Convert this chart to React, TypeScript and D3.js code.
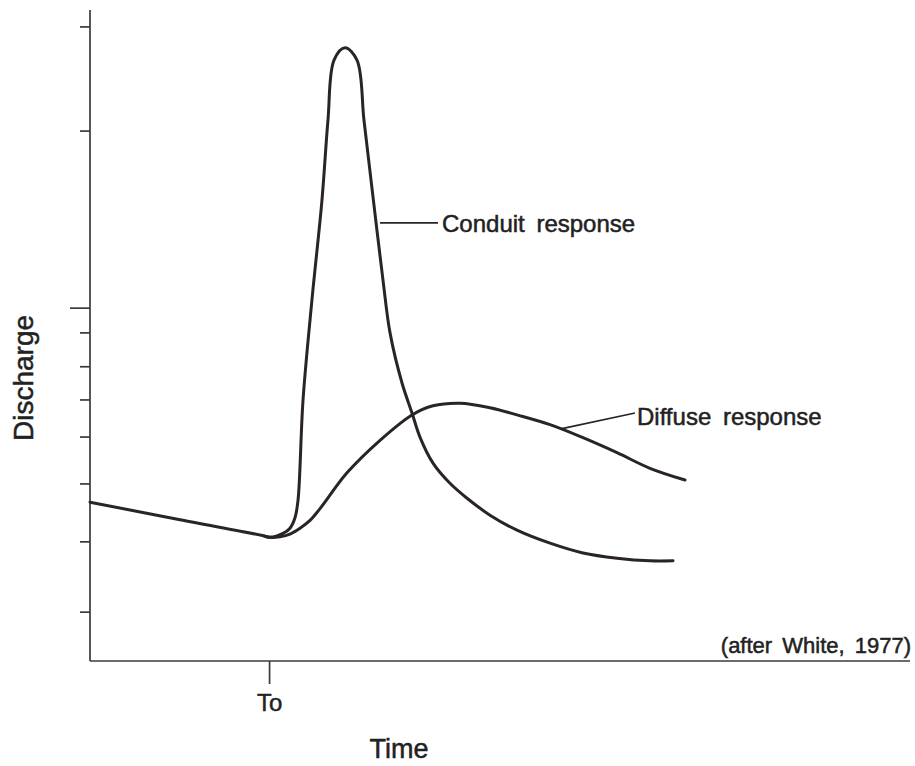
import React from 'react';
import * as d3 from 'd3';

// hydrograph values (time, discharge in arbitrary units 0-100)
const conduitTime = [0, 10.98, 20.98, 21.95, 23.54, 24.39, 25.0, 25.37, 25.98, 27.07, 28.29, 29.02, 29.76, 31.1, 32.56, 33.41, 34.39, 35.73, 36.59, 38.05, 39.27, 40.24, 41.83, 43.9, 45.98, 48.78, 52.07, 56.1, 60.12, 64.27, 68.29, 71.1];
const conduitFlow = [24.4, 21.7, 19.3, 19.0, 19.6, 20.4, 22.0, 24.7, 40.1, 55.5, 70.8, 83.1, 92.3, 94.2, 92.3, 83.1, 72.6, 58.5, 50.4, 42.7, 38.1, 34.4, 30.4, 27.3, 25.0, 22.4, 20.1, 18.1, 16.6, 15.8, 15.4, 15.4];

const diffuseTime = [20.98, 21.95, 23.17, 24.39, 25.61, 26.83, 28.05, 31.34, 35.37, 39.27, 41.83, 45.12, 48.78, 52.07, 56.1, 60.12, 64.27, 68.29, 72.56];
const diffuseFlow = [19.3, 19.0, 19.1, 19.5, 20.4, 21.6, 23.4, 28.9, 33.9, 37.8, 39.2, 39.6, 38.9, 37.8, 36.3, 34.3, 32.0, 29.6, 27.8];

// unlabeled tick marks on the discharge axis; the one at 54.2 is drawn longer
const yTicks = [97.4, 81.4, 54.2, 50.4, 45.2, 40.1, 34.4, 27.2, 18.3, 7.5];
const yLongTick = 54.2;
const xTicks = [21.9];
const xTickLabels = ['To'];

const conduitLabel = 'Conduit response';
const diffuseLabel = 'Diffuse response';
const sourceNote = '(after White, 1977)';

const W = 915;
const H = 766;
const FONT = '"Liberation Sans", Arial, Helvetica, sans-serif';
const INK = '#2a2426';
const AXIS = '#3a3a3a';
const TEXT = '#222';

const App: React.FC = () => {
    const margin = { top: 10, right: 5, bottom: 105, left: 90 };

    const x = d3.scaleLinear().domain([0, 100]).range([margin.left, W - margin.right]);
    const y = d3.scaleLinear().domain([0, 100]).range([H - margin.bottom, margin.top]);

    const line = d3.line<[number, number]>()
        .x(d => x(d[0]))
        .y(d => y(d[1]))
        .curve(d3.curveCatmullRom.alpha(0.5));

    const conduit: [number, number][] = conduitTime.map((t, i) => [t, conduitFlow[i]]);
    const diffuse: [number, number][] = diffuseTime.map((t, i) => [t, diffuseFlow[i]]);

    const x0 = x(0);
    const y0 = y(0);

    // leader lines for the two curve labels
    const conduitLead = { from: [35.37, 67.3], to: [42.44, 67.3] };
    const diffuseLead = { from: [57.56, 35.7], to: [66.46, 38.1] };

    const textInk = { fill: TEXT, stroke: TEXT, strokeWidth: 0.5 };

    return (
        <svg width={W} height={H} style={{ position: 'absolute', left: 0, top: 0, background: '#fff' }}
            fontFamily={FONT}>
            {/* axes */}
            <line x1={x0} x2={x0} y1={y(100)} y2={y0} stroke={AXIS} strokeWidth={1.7} />
            <line x1={x0} x2={x(100)} y1={y0} y2={y0} stroke={AXIS} strokeWidth={1.7} />

            {yTicks.map(v => (
                <line key={v} x1={x0 - (v === yLongTick ? 20 : 10)} x2={x0} y1={y(v)} y2={y(v)}
                    stroke={AXIS} strokeWidth={1.7} />
            ))}

            {xTicks.map((v, i) => (
                <g key={v}>
                    <line x1={x(v)} x2={x(v)} y1={y0} y2={y0 + 23} stroke={AXIS} strokeWidth={1.7} />
                    <text x={x(v)} y={y0 + 50} textAnchor="middle" fontSize={24} {...textInk}>
                        {xTickLabels[i]}
                    </text>
                </g>
            ))}

            {/* curves */}
            <path d={line(conduit) || ''} fill="none" stroke={INK} strokeWidth={3} strokeLinejoin="round" strokeLinecap="round" />
            <path d={line(diffuse) || ''} fill="none" stroke={INK} strokeWidth={3} strokeLinejoin="round" strokeLinecap="round" />

            {/* labels */}
            <line x1={x(conduitLead.from[0])} y1={y(conduitLead.from[1])} x2={x(conduitLead.to[0])} y2={y(conduitLead.to[1])}
                stroke={INK} strokeWidth={1.7} />
            <text x={x(conduitLead.to[0]) + 4} y={y(conduitLead.to[1]) + 9} fontSize={24} wordSpacing={5} {...textInk}>
                {conduitLabel}
            </text>

            <line x1={x(diffuseLead.from[0])} y1={y(diffuseLead.from[1])} x2={x(diffuseLead.to[0])} y2={y(diffuseLead.to[1])}
                stroke={INK} strokeWidth={1.7} />
            <text x={x(diffuseLead.to[0]) + 2} y={y(diffuseLead.to[1]) + 12} fontSize={24} wordSpacing={5} {...textInk}>
                {diffuseLabel}
            </text>

            <text x={W - 4} y={y0 - 8} textAnchor="end" fontSize={22} wordSpacing={4} {...textInk}>
                {sourceNote}
            </text>

            <text transform={`translate(33,378) rotate(-90)`} textAnchor="middle" fontSize={28} {...textInk}>
                Discharge
            </text>
            <text x={399} y={758} textAnchor="middle" fontSize={27} {...textInk}>
                Time
            </text>
        </svg>
    );
};

export default App;
